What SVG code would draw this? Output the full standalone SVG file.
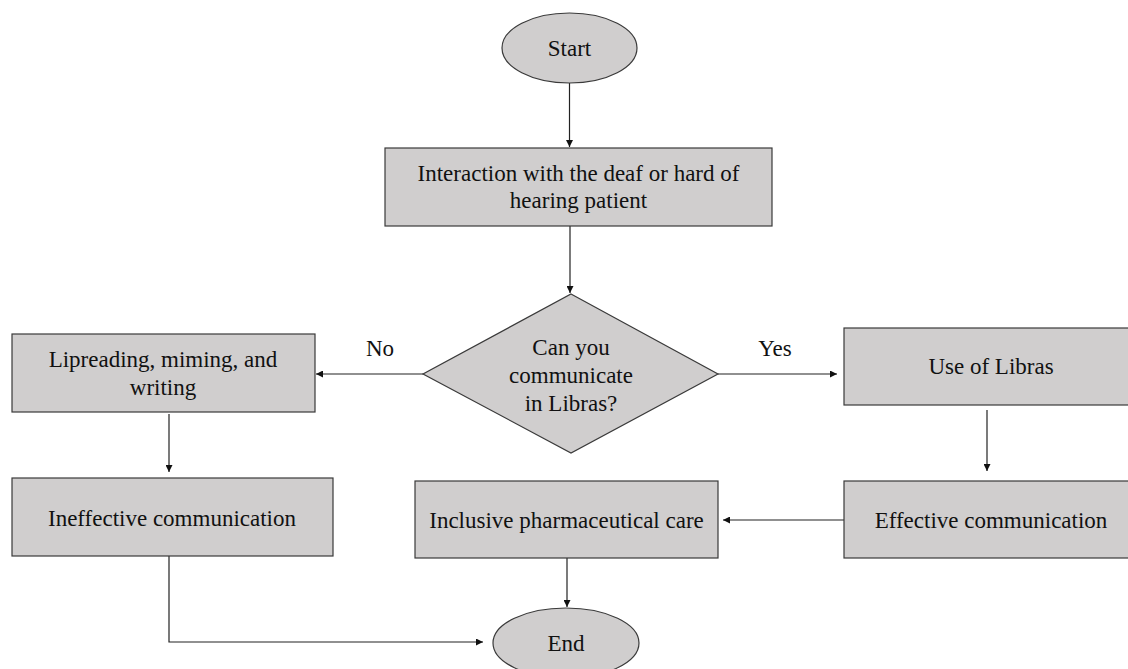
<svg xmlns="http://www.w3.org/2000/svg" width="1128" height="669" viewBox="0 0 1128 669">
<style>
.shape{fill:#d0cece;stroke:#3a3a3a;stroke-width:1.2}
.t{font-family:"Liberation Serif","Times New Roman",serif;font-size:23px;fill:#111;text-anchor:middle}
.c{fill:none;stroke:#222;stroke-width:1.2}
</style>
<defs>
<marker id="ah" viewBox="0 0 10 10" refX="10" refY="5" markerWidth="7" markerHeight="7" markerUnits="userSpaceOnUse" orient="auto">
<path d="M0,0 L10,5 L0,10 z" fill="#111"/>
</marker>
</defs>
<rect width="1128" height="669" fill="#fff"/>
<g id="connectors">
<path class="c" d="M569.5,83 V147" marker-end="url(#ah)"/>
<path class="c" d="M570,226 V293" marker-end="url(#ah)"/>
<path class="c" d="M423,374 H316" marker-end="url(#ah)"/>
<path class="c" d="M718,374 H837" marker-end="url(#ah)"/>
<path class="c" d="M169,414 V472" marker-end="url(#ah)"/>
<path class="c" d="M987,410 V471" marker-end="url(#ah)"/>
<path class="c" d="M844,520 H723" marker-end="url(#ah)"/>
<path class="c" d="M567,558 V607" marker-end="url(#ah)"/>
<path class="c" d="M169,556 V642 H483" marker-end="url(#ah)"/>
</g>
<g id="lbl-no"><text class="t" x="380" y="356">No</text></g>
<g id="lbl-yes"><text class="t" x="775" y="356">Yes</text></g>
<g id="start">
<ellipse class="shape" cx="569.5" cy="48" rx="67.5" ry="35"/>
<text class="t" x="569.5" y="56">Start</text>
</g>
<g id="interaction">
<rect class="shape" x="385" y="148" width="387" height="78"/>
<text class="t" x="578.5" y="181">Interaction with the deaf or hard of</text>
<text class="t" x="578.5" y="208">hearing patient</text>
</g>
<g id="decision">
<polygon class="shape" points="571,294 718,374 571,453 423,374"/>
<text class="t" x="571" y="355">Can you</text>
<text class="t" x="571" y="383">communicate</text>
<text class="t" x="571" y="411">in Libras?</text>
</g>
<g id="lipreading">
<rect class="shape" x="12" y="334" width="303" height="78"/>
<text class="t" x="163" y="367">Lipreading, miming, and</text>
<text class="t" x="163" y="395">writing</text>
</g>
<g id="use-libras">
<rect class="shape" x="844" y="328" width="296" height="77"/>
<text class="t" x="991" y="374">Use of Libras</text>
</g>
<g id="ineffective">
<rect class="shape" x="12" y="478" width="321" height="78"/>
<text class="t" x="172" y="526">Ineffective communication</text>
</g>
<g id="inclusive">
<rect class="shape" x="415" y="481" width="303" height="77"/>
<text class="t" x="566.5" y="528">Inclusive pharmaceutical care</text>
</g>
<g id="effective">
<rect class="shape" x="844" y="481" width="296" height="77"/>
<text class="t" x="991" y="528">Effective communication</text>
</g>
<g id="end">
<ellipse class="shape" cx="566" cy="643" rx="73" ry="35"/>
<text class="t" x="566" y="651">End</text>
</g>
</svg>
